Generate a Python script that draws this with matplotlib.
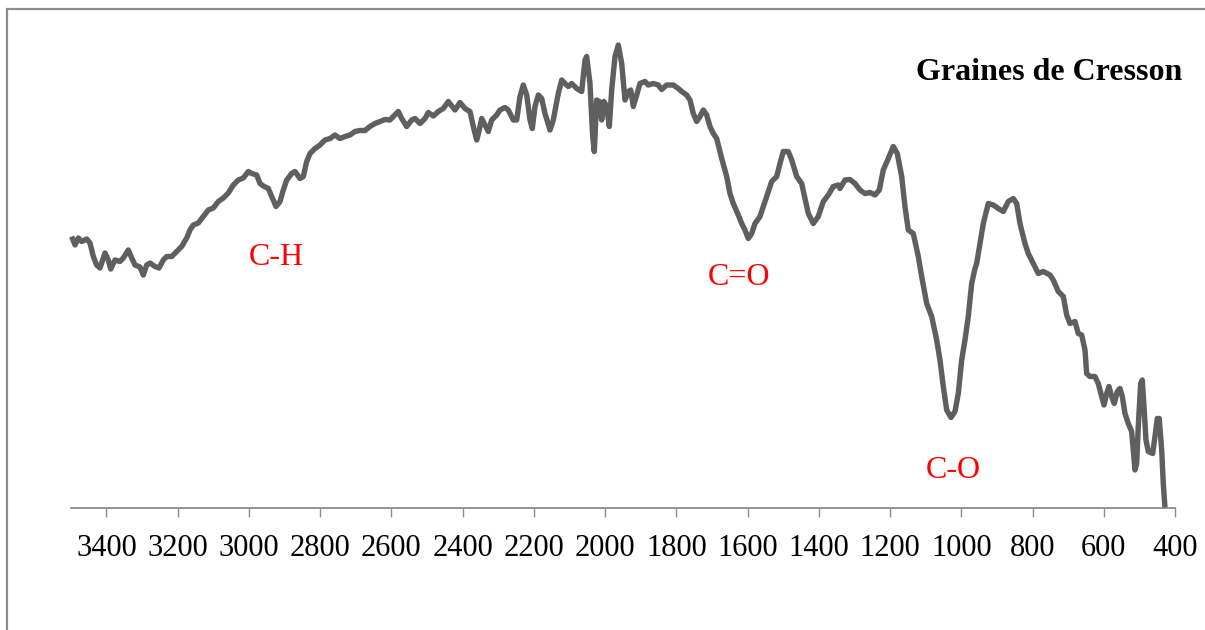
import matplotlib
matplotlib.use("Agg")
import matplotlib.pyplot as plt
from matplotlib.patches import Rectangle

# Wavenumber (cm-1) and transmittance (arbitrary %)
wavenumber = [
    3497.5, 3488.2, 3478.9, 3469.4, 3455.4, 3446.1, 3436.8, 3427.3, 3418.0, 3404.0,
    3394.7, 3388.0, 3375.9, 3361.9, 3352.6, 3338.6, 3329.0, 3319.8, 3305.7, 3296.5,
    3286.9, 3277.7, 3263.6, 3252.4, 3240.3, 3230.8, 3216.7, 3202.7, 3188.7, 3174.6,
    3165.4, 3156.1, 3142.1, 3128.0, 3114.0, 3099.9, 3085.9, 3071.9, 3057.8, 3043.8,
    3029.8, 3015.7, 3001.7, 2992.1, 2978.1, 2968.8, 2959.6, 2945.5, 2936.0, 2923.9,
    2912.7, 2903.4, 2893.9, 2879.9, 2870.6, 2856.5, 2847.3, 2837.7, 2828.5, 2814.4,
    2800.4, 2786.4, 2772.3, 2758.3, 2744.3, 2730.2, 2716.2, 2702.1, 2688.1, 2674.1,
    2660.0, 2646.0, 2631.9, 2617.9, 2603.9, 2594.6, 2580.6, 2571.0, 2557.0, 2543.0,
    2533.7, 2519.7, 2505.6, 2496.4, 2482.3, 2468.3, 2454.2, 2440.2, 2421.4, 2407.4,
    2393.3, 2379.3, 2370.0, 2360.5, 2353.2, 2346.4, 2337.2, 2327.9, 2318.4, 2304.3,
    2295.0, 2281.0, 2271.8, 2257.7, 2248.2, 2238.9, 2229.6, 2220.1, 2210.8, 2204.4,
    2196.8, 2187.5, 2178.0, 2168.7, 2154.7, 2145.4, 2131.4, 2121.8, 2112.6, 2103.3,
    2093.8, 2079.7, 2065.7, 2056.4, 2051.7, 2042.4, 2034.8, 2030.3, 2023.6, 2016.3,
    2009.5, 2003.1, 1995.5, 1988.2, 1981.5, 1972.2, 1962.9, 1953.4, 1944.1, 1934.9,
    1928.1, 1920.8, 1911.3, 1902.0, 1888.0, 1878.7, 1864.7, 1850.7, 1841.1, 1827.1,
    1808.5, 1794.5, 1785.0, 1770.9, 1761.6, 1752.4, 1742.8, 1733.6, 1724.3, 1714.8,
    1705.5, 1696.2, 1686.7, 1672.6, 1658.6, 1649.4, 1640.1, 1626.1, 1616.5, 1607.3,
    1598.0, 1588.4, 1579.2, 1565.1, 1555.9, 1546.3, 1532.3, 1518.2, 1509.0, 1499.7,
    1485.7, 1476.1, 1462.1, 1448.1, 1438.8, 1429.5, 1415.5, 1401.5, 1387.4, 1373.4,
    1359.4, 1345.3, 1340.5, 1326.5, 1312.5, 1298.4, 1284.4, 1270.3, 1256.3, 1242.3,
    1230.2, 1219.0, 1204.9, 1190.9, 1179.7, 1167.3, 1158.1, 1148.8, 1134.8, 1120.7,
    1111.2, 1097.1, 1083.1, 1069.1, 1059.8, 1050.5, 1041.0, 1028.9, 1017.7, 1008.4,
    998.9, 989.6, 980.4, 970.8, 961.5, 956.8, 938.2, 924.2, 910.2, 896.1,
    882.1, 868.1, 854.0, 844.5, 835.2, 821.2, 811.9, 797.9, 783.8, 769.8,
    751.0, 741.7, 727.7, 713.6, 704.1, 694.8, 680.8, 671.5, 662.0, 652.7,
    648.0, 638.7, 624.7, 615.4, 605.9, 599.4, 591.8, 585.4, 577.8, 570.5,
    562.1, 554.5, 548.0, 540.4, 531.2, 521.7, 517.1, 512.4, 507.6, 503.1,
    496.4, 491.9, 487.1, 481.5, 475.0, 462.7, 456.2, 449.8, 444.2, 437.4,
    432.9, 428.2,
]
transmittance = [
    54.5, 52.8, 54.2, 53.5, 54.0, 53.2, 50.5, 48.8, 48.2, 51.2,
    49.8, 48.0, 49.8, 49.5, 50.2, 51.8, 50.2, 48.8, 48.4, 46.8,
    48.8, 49.2, 48.5, 48.2, 49.8, 50.5, 50.5, 51.5, 52.5, 54.2,
    55.8, 56.8, 57.2, 58.5, 59.8, 60.2, 61.5, 62.2, 63.2, 64.8,
    65.8, 66.2, 67.5, 67.1, 66.8, 65.1, 64.6, 64.1, 62.5, 60.5,
    61.5, 63.8, 65.8, 67.1, 67.5, 66.1, 66.5, 69.5, 71.1, 72.1,
    72.8, 73.8, 74.1, 74.8, 74.1, 74.5, 74.8, 75.5, 75.7, 75.7,
    76.5, 77.1, 77.5, 77.9, 77.8, 78.5, 79.5, 78.1, 76.5, 77.8,
    78.1, 77.1, 78.1, 79.3, 78.6, 79.5, 80.1, 81.5, 79.8, 81.3,
    80.1, 79.5, 76.5, 73.8, 75.8, 78.1, 76.8, 75.5, 77.8, 78.8,
    79.8, 80.3, 79.8, 77.8, 77.8, 82.5, 84.8, 82.8, 77.8, 76.1,
    80.5, 82.8, 82.1, 79.1, 75.8, 77.8, 83.1, 85.8, 85.1, 84.5,
    85.1, 84.1, 83.5, 89.8, 90.5, 85.1, 74.5, 71.5, 81.8, 81.5,
    77.8, 81.5, 80.5, 76.5, 83.8, 90.5, 92.8, 89.1, 81.8, 83.5,
    83.8, 80.5, 82.8, 85.1, 85.5, 84.8, 85.1, 84.8, 83.9, 84.8,
    84.8, 84.1, 83.5, 82.8, 81.8, 79.1, 77.5, 78.5, 79.8, 78.8,
    76.5, 75.1, 74.1, 70.1, 66.5, 63.1, 61.1, 58.8, 57.1, 55.8,
    54.1, 55.1, 57.1, 58.5, 60.5, 62.5, 65.5, 66.5, 69.1, 71.5,
    71.5, 69.8, 66.5, 65.1, 62.1, 59.1, 57.1, 58.5, 61.5, 62.8,
    64.5, 64.8, 64.1, 65.8, 65.9, 65.1, 63.8, 63.1, 63.3, 62.8,
    63.8, 67.8, 70.1, 72.5, 71.1, 66.5, 60.5, 55.8, 55.1, 50.5,
    46.5, 41.1, 38.5, 33.8, 29.8, 24.5, 19.8, 18.3, 19.5, 23.1,
    29.8, 33.8, 38.5, 45.1, 48.1, 49.1, 57.1, 61.1, 60.8, 60.1,
    59.5, 61.5, 62.1, 61.1, 57.1, 53.1, 51.1, 49.1, 47.1, 47.5,
    46.8, 45.8, 43.5, 42.5, 38.8, 37.1, 37.5, 35.1, 34.8, 31.8,
    27.1, 26.5, 26.5, 25.1, 22.5, 20.8, 23.1, 24.5, 22.5, 21.1,
    23.5, 24.1, 22.5, 19.1, 17.1, 15.5, 11.8, 7.8, 9.1, 16.5,
    25.1, 25.8, 20.5, 13.8, 11.5, 11.1, 14.5, 18.1, 18.1, 11.8,
    5.1, 0.3,
]
x_ticks = [3400, 3200, 3000, 2800, 2600, 2400, 2200, 2000, 1800, 1600,
           1400, 1200, 1000, 800, 600, 400]
band_labels = ["C-H", "C=O", "C-O"]
band_positions = [2922, 1624, 1023]
band_heights = [48.8, 44.8, 6.2]
title_text = "Graines de Cresson"

W, H = 1205, 630
fig = plt.figure(figsize=(W / 100, H / 100), dpi=100)
fig.patch.set_facecolor("white")

serif = ["Liberation Serif", "DejaVu Serif"]
ax_left, ax_right = 70.8, 1175.0
ax_bottom_px, ax_top_px = 507.5, 27.5
ax = fig.add_axes([ax_left / W, 1 - ax_bottom_px / H,
                   (ax_right - ax_left) / W, (ax_bottom_px - ax_top_px) / H])
ax.set_facecolor("none")

ax.plot(wavenumber, transmittance, color="#5f5f5f", lw=3.9,
        solid_joinstyle="round", solid_capstyle="butt", clip_on=False, zorder=3)

ax.set_xlim(3500, 400)
ax.set_ylim(0.3, 96.3)
ax.set_xticks(x_ticks)
ax.set_xticklabels([str(t) for t in x_ticks], fontfamily=serif, fontsize=22)
ax.set_yticks([])
for s in ["left", "top", "right"]:
    ax.spines[s].set_visible(False)
ax.spines["bottom"].set_color("#8c8c8c")
ax.spines["bottom"].set_linewidth(1.3)
ax.tick_params(axis="x", direction="out", length=6.5, width=1.0,
               color="#8c8c8c", pad=12.5, labelcolor="black")

for lab, xw, yt in zip(band_labels, band_positions, band_heights):
    ax.text(xw, yt, lab, color="red", fontfamily=serif, fontsize=23,
            ha="center", va="baseline")

fig.text(1182 / W, 1 - 79.5 / H, title_text, fontfamily=serif, fontsize=23,
         fontweight="bold", ha="right", va="baseline", color="black")

border = Rectangle((7 / W, -0.1), 1.5, 1 - 9 / H + 0.1, transform=fig.transFigure,
                   fill=False, edgecolor="#8c8c8c", linewidth=1.6, zorder=0)
fig.patches.append(border)

fig.savefig("out.png", dpi=100, facecolor="white")
